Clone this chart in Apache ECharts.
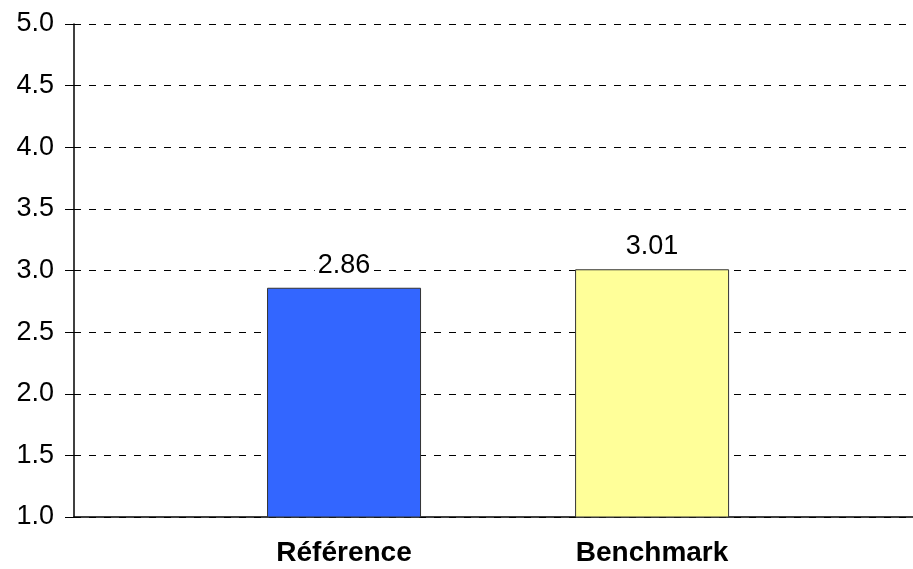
<!DOCTYPE html>
<html>
<head>
<meta charset="utf-8">
<script src="https://cdn.jsdelivr.net/npm/echarts@6/dist/echarts.min.js"></script>
<style>
  html, body { margin: 0; padding: 0; background: #fff; }
  #chart { width: 913px; height: 569px; }
</style>
</head>
<body>
<div id="chart"></div>
<script>
// Mean scores per group
const categories = ['Référence', 'Benchmark'];
const scores = [2.86, 3.01];
const barColors = ['#3366FF', '#FFFF99'];

const catIndex = categories.map((_, i) => i);

const chart = echarts.init(document.getElementById('chart'), null, { renderer: 'canvas' });

chart.setOption({
  animation: false,
  backgroundColor: '#ffffff',
  grid: { left: 74, right: 0, top: 24, bottom: 52, containLabel: false },
  xAxis: {
    // numeric axis over category indices, so the plot can run past the last group
    type: 'value',
    min: -0.8766,
    max: 1.847,
    axisLine: { show: true, onZero: false, lineStyle: { color: '#000', width: 1.5 } },
    axisTick: { show: false },
    splitLine: { show: false },
    axisLabel: {
      customValues: catIndex,
      color: '#000',
      fontFamily: 'Liberation Sans, Arial, sans-serif',
      fontWeight: 'bold',
      fontSize: 28,
      margin: 22,
      formatter: v => categories[Math.round(v)]
    }
  },
  yAxis: {
    type: 'value',
    min: 1,
    max: 5,
    interval: 0.5,
    axisLine: { show: true, onZero: false, lineStyle: { color: '#000', width: 1.5 } },
    axisTick: { show: true, length: 9, lineStyle: { color: '#000', width: 1 } },
    splitLine: {
      show: true,
      lineStyle: { color: '#000', width: 1, type: [7, 8] }
    },
    axisLabel: {
      color: '#000',
      fontFamily: 'Liberation Sans, Arial, sans-serif',
      fontSize: 27,
      margin: 20,
      formatter: v => v.toFixed(1)
    }
  },
  series: [{
    type: 'bar',
    barWidth: 154,
    data: scores.map((v, i) => ({
      value: [catIndex[i], v],
      itemStyle: { color: barColors[i] }
    })),
    itemStyle: { borderColor: '#333', borderWidth: 1 },
    label: {
      show: true,
      position: 'top',
      distance: 9,
      color: '#000',
      backgroundColor: '#ffffff',
      padding: [0, 3],
      fontFamily: 'Liberation Sans, Arial, sans-serif',
      fontSize: 27,
      formatter: p => p.value[1].toFixed(2)
    }
  }]
});
</script>
</body>
</html>
